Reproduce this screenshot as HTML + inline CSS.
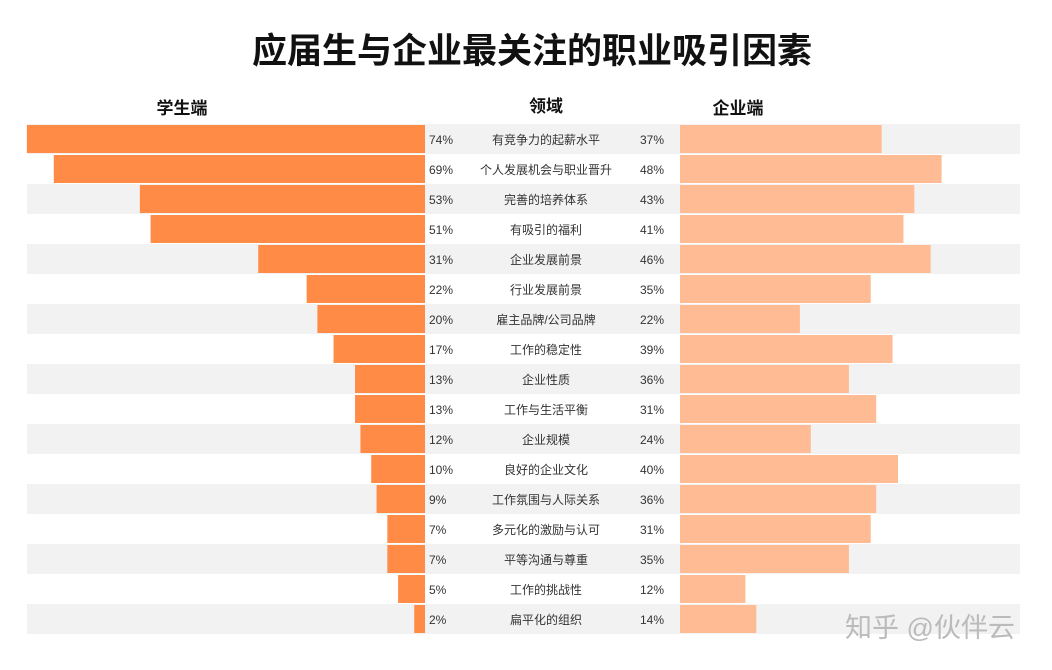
<!DOCTYPE html>
<html><head><meta charset="utf-8"><style>
body{margin:0;width:1052px;height:670px;background:#fff;overflow:hidden;font-family:"Liberation Sans","Noto Sans CJK SC",sans-serif;}
svg{display:block}
</style></head><body>
<svg id="c" width="1052" height="670">
<text x="532" y="63" text-anchor="middle" font-size="35" font-weight="bold" fill="#111" font-family="Liberation Sans, Noto Sans CJK SC, sans-serif">应届生与企业最关注的职业吸引因素</text>
<rect x="27" y="86" width="993" height="38" fill="#fff"/>
<text x="182" y="114" text-anchor="middle" font-size="17" font-weight="bold" fill="#111">学生端</text>
<text x="546" y="112" text-anchor="middle" font-size="17" font-weight="bold" fill="#111">领域</text>
<text x="738" y="114" text-anchor="middle" font-size="17" font-weight="bold" fill="#111">企业端</text>
<g id="rows"></g>
<text x="930" y="637" text-anchor="middle" font-size="27" fill="#bbb">知乎 @伙伴云</text>
</svg>
<script>
const categories=["有竞争力的起薪水平","个人发展机会与职业晋升","完善的培养体系","有吸引的福利","企业发展前景","行业发展前景","雇主品牌/公司品牌","工作的稳定性","企业性质","工作与生活平衡","企业规模","良好的企业文化","工作氛围与人际关系","多元化的激励与认可","平等沟通与尊重","工作的挑战性","扁平化的组织"];
const studentValues=[74,69,53,51,31,22,20,17,13,13,12,10,9,7,7,5,2];
const companyValues=[37,48,43,41,46,35,22,39,36,31,24,40,36,31,35,12,14];
const companyBarValues=[37,48,43,41,46,35,22,39,31,36,24,40,36,35,31,12,14];
const NS="http://www.w3.org/2000/svg";
const g=document.getElementById('rows');
const top0=124,rowH=30;
const xL=v=>425-v*5.38;
const xR=v=>v*5.45;
function mk(t,a,txt){const e=document.createElementNS(NS,t);for(const k in a)e.setAttribute(k,a[k]);if(txt!==undefined)e.textContent=txt;g.appendChild(e);return e;}
categories.forEach((c,i)=>{
  const y=top0+i*rowH;
  const bg=mk('rect',{x:27,y:y,width:993,height:rowH,fill:i%2===0?'#f2f2f2':'#fff'});
  
  
  const lb=mk('rect',{x:xL(studentValues[i]),y:y+1,width:425-xL(studentValues[i]),height:rowH-2,fill:'#ff8b47'});
  
  
  const rb=mk('rect',{x:680,y:y+1,width:xR(companyBarValues[i]),height:rowH-2,fill:'#ffbb94'});
  
  
  const lt=mk('text',{x:429,y:y+20,'font-size':12,fill:'#333'},studentValues[i]+'%');
  
  
  const ct=mk('text',{x:546,y:y+20,'font-size':12,fill:'#333','text-anchor':'middle'},c);
  
  
  const rt=mk('text',{x:640,y:y+20,'font-size':12,fill:'#333'},companyValues[i]+'%');
  
  
});
</script>
</body></html>
